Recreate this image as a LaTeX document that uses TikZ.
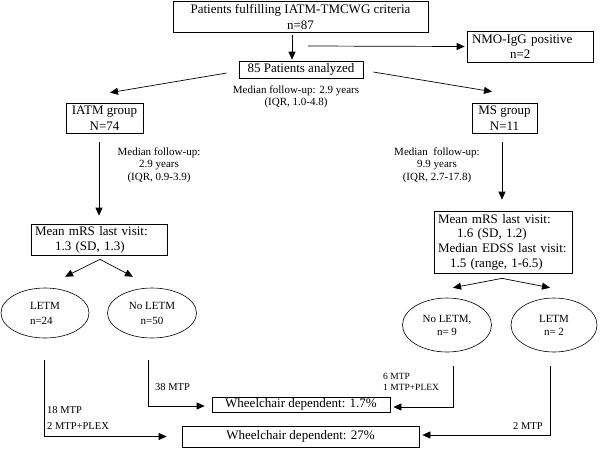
\documentclass[tikz,border=0pt]{standalone}
\usepackage{fontspec}
\setmainfont{Liberation Serif}
\usepackage{tikz}
\usetikzlibrary{shapes,arrows.meta}
\tikzstyle{box}=[rectangle,draw=black,line width=0.7pt,inner sep=0pt,
  align=center,font=\fontsize{13}{16}\selectfont]
\tikzstyle{lbox}=[rectangle,draw=black,line width=0.7pt,inner xsep=4pt,inner ysep=1pt,
  align=left,font=\fontsize{13}{15}\selectfont]
\tikzstyle{oval}=[ellipse,draw=black,line width=0.6pt,inner sep=0pt,
  align=center,font=\fontsize{11}{15}\selectfont]
\tikzstyle{note}=[inner sep=0pt,align=center,font=\fontsize{11}{12.3}\selectfont]
\tikzstyle{treat}=[inner sep=0pt,align=left,font=\fontsize{10.5}{16}\selectfont]
\tikzstyle{arr}=[-{Triangle[length=8pt,width=7pt]},line width=0.7pt]

\begin{document}
\begin{tikzpicture}[x=1pt,y=-1pt]
    \useasboundingbox (0,0) rectangle (600,448);
    \node [style=box,minimum width=255pt,minimum height=31pt] (crit) at (300.5,16.5) {Patients fulfilling IATM-TMCWG criteria\\n=87};
    \node [style=lbox,text width=116pt,inner xsep=5pt,minimum height=31pt] (nmo) at (530,46.5) {NMO-IgG positive\\\hspace*{38pt}n=2};
    \node [style=box,minimum width=124pt,minimum height=17pt] (anal) at (301,69.5) {85 Patients analyzed};
    \node [style=note] (fu0) at (296,97) {Median follow-up: 2.9 years\\(IQR, 1.0-4.8)};
    \node [style=box,minimum width=77pt,minimum height=30pt] (iatm) at (104.5,118) {IATM group\\N=74};
    \node [style=box,minimum width=65pt,minimum height=30pt] (ms) at (504.5,118) {MS group\\N=11};
    \node [style=note] (fu1) at (159,165) {Median follow-up:\\2.9 years\\(IQR, 0.9-3.9)};
    \node [style=note] (fu2) at (437,165) {Median~ follow-up:\\9.9 years\\(IQR, 2.7-17.8)};
    \node [style=lbox,text width=128pt,minimum height=31pt] (mrsl) at (99,239.5) {Mean mRS last visit:\\\hspace*{20pt}1.3 (SD, 1.3)};
    \node [style=lbox,text width=130pt,minimum height=62pt,font=\fontsize{13}{14.7}\selectfont] (mrsr) at (503,242) {Mean mRS last visit:\\\hspace*{19pt}1.6 (SD, 1.2)\\Median EDSS last visit:\\\hspace*{12pt}1.5 (range, 1-6.5)};
    \node [style=oval,minimum width=88pt,minimum height=50pt,align=left] (letml) at (45,313) {LETM\\n=24};
    \node [style=oval,minimum width=89pt,minimum height=50pt] (noletml) at (152,313) {No LETM\\n=50};
    \node [style=oval,minimum width=89pt,minimum height=54pt,font=\fontsize{11}{13}\selectfont] (noletmr) at (447,325) {No LETM,\\n= 9};
    \node [style=oval,minimum width=86pt,minimum height=54pt,font=\fontsize{11}{13}\selectfont] (letmr) at (554,325) {LETM\\n= 2};
    \node [style=box,minimum width=178pt,minimum height=15pt] (wc1) at (301,404.5) {Wheelchair dependent: 1.7\%};
    \node [style=box,minimum width=237pt,minimum height=21pt] (wc2) at (300.5,436.5) {Wheelchair dependent: 27\%};
    \node [style=treat,anchor=west] (t38) at (155,387) {38 MTP};
    \node [style=treat,anchor=west] (t18) at (47,418) {18 MTP\\2 MTP+PLEX};
    \node [style=treat,anchor=west,font=\fontsize{9.5}{11}\selectfont] (t6) at (383,382) {6 MTP\\1 MTP+PLEX};
    \node [style=treat,anchor=west] (t2) at (513,426) {2 MTP};
    \coordinate (split) at (308,46);
    \draw [style=arr] ([shift={(-8.5pt,-3pt)}]crit.south) to ([shift={(-9pt,1pt)}]anal.north);
    \draw [style=arr] (split) to ([xshift=-2pt]nmo.west);
    \draw [style=arr] ([shift={(-12pt,-3.5pt)}]anal.west) to ([shift={(5.5pt,10pt)}]iatm.north);
    \draw [style=arr] ([shift={(10pt,-2.5pt)}]anal.east) to ([shift={(-12.5pt,11pt)}]ms.north);
    \draw [style=arr] ([shift={(-5.5pt,-9pt)}]iatm.south) to ([yshift=8pt]mrsl.north);
    \draw [style=arr] ([shift={(-2.5pt,-9pt)}]ms.south) to ([shift={(-1pt,11pt)}]mrsr.north);
    \draw [style=arr] ([shift={(1pt,-4pt)}]mrsl.south) to ([shift={(20pt,11pt)}]letml.north);
    \draw [style=arr] ([shift={(1pt,-4pt)}]mrsl.south) to ([shift={(-19pt,11pt)}]noletml.north);
    \draw [style=arr] ([shift={(-1pt,-5pt)}]mrsr.south) to ([shift={(6pt,10pt)}]noletmr.north);
    \draw [style=arr] ([shift={(-1pt,-5pt)}]mrsr.south) to ([shift={(-4pt,10pt)}]letmr.north);
    \draw [style=arr] ([shift={(-1pt,-22pt)}]letml.south) |- ([xshift=-15pt]wc2.west);
    \draw [style=arr] ([shift={(-4pt,-22pt)}]noletml.south) |- ([shift={(-7pt,-1.5pt)}]wc1.west);
    \draw [style=arr] ([shift={(6pt,-14pt)}]noletmr.south) |- ([shift={(3pt,-2.5pt)}]wc1.east);
    \draw [style=arr] ([shift={(-4pt,-14pt)}]letmr.south) |- ([shift={(3pt,1.5pt)}]wc2.east);
\end{tikzpicture}
\end{document}
